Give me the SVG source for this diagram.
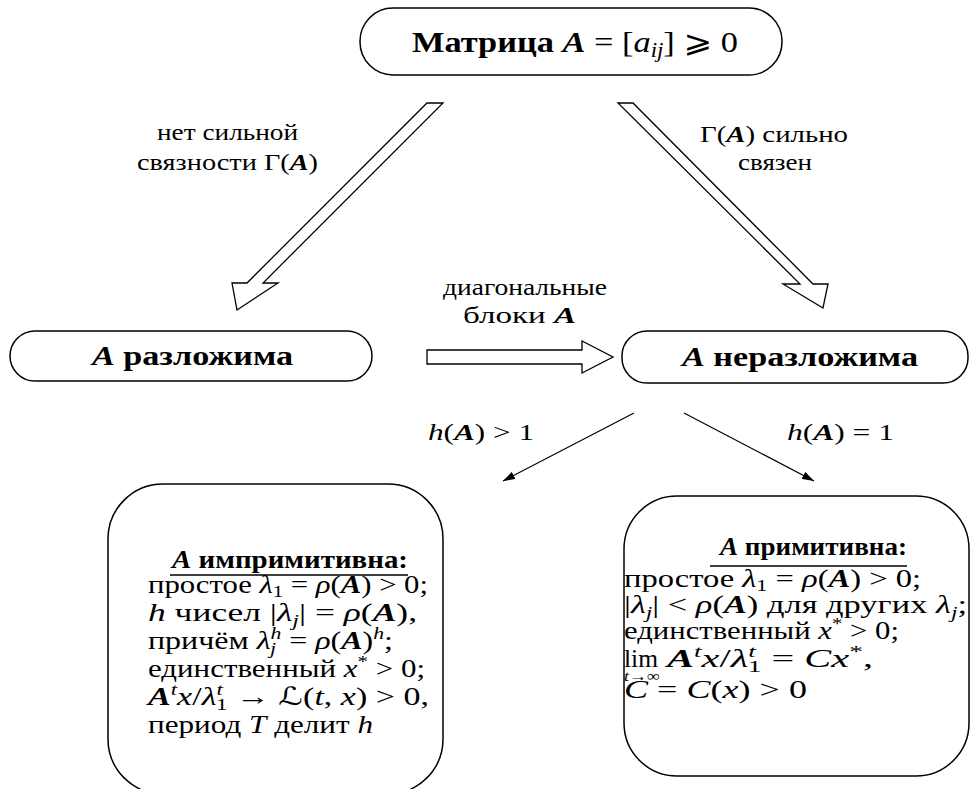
<svg xmlns="http://www.w3.org/2000/svg" width="971" height="789" viewBox="0 0 971 789" font-family="'Liberation Serif', 'DejaVu Serif', serif">
<style>
text{font-family:"Liberation Serif","DejaVu Serif",serif;fill:#000}
.box{fill:#fff;stroke:#000;stroke-width:1.5}
.hol{fill:#fff;stroke:#000;stroke-width:1.3;stroke-linejoin:miter}
.thin{stroke:#000;stroke-width:1.2;fill:none}
.b{font-weight:bold}
.i{font-style:italic}
.bi{font-weight:bold;font-style:italic}
.s{font-size:17px}
.sym{font-family:"DejaVu Sans",sans-serif}
.lbl{font-size:24px}
.bx{font-size:25px}
.ul{stroke:#000;stroke-width:1.5}
</style>
<defs>
<marker id="ah" viewBox="0 0 12 8" refX="12" refY="4" markerWidth="12" markerHeight="8" markerUnits="userSpaceOnUse" orient="auto">
<path d="M0,0 L12,4 L0,8 Z" fill="#000"/>
</marker>
</defs>
<rect width="971" height="789" fill="#fff"/>

<g id="connectors">
<polygon class="hol" points="427,103 443,103 263,283 278,283 237,310 232,283 247,283"/>
<polygon class="hol" points="618,103 633,103 813,284 828,284 823,308 783,284 800,284"/>
<polygon class="hol" points="427,350 582,350 582,341 613,357 582,373 582,364 427,364"/>
<line class="thin" x1="634" y1="413" x2="503" y2="481" marker-end="url(#ah)"/>
<line class="thin" x1="684" y1="413" x2="814" y2="481" marker-end="url(#ah)"/>
<text class="lbl" x="157" y="140" textLength="141" lengthAdjust="spacingAndGlyphs">нет сильной</text>
<text class="lbl" x="137" y="170" textLength="181" lengthAdjust="spacingAndGlyphs">связности Γ(<tspan class="bi">A</tspan>)</text>
<text class="lbl" x="700" y="142" textLength="148" lengthAdjust="spacingAndGlyphs">Γ(<tspan class="bi">A</tspan>) сильно</text>
<text class="lbl" x="738" y="170" textLength="74" lengthAdjust="spacingAndGlyphs">связен</text>
<text class="lbl" x="443" y="295" textLength="164" lengthAdjust="spacingAndGlyphs">диагональные</text>
<text class="lbl" x="463" y="323" textLength="113" lengthAdjust="spacingAndGlyphs">блоки <tspan class="bi">A</tspan></text>
<text class="lbl" x="428" y="440" textLength="106" lengthAdjust="spacingAndGlyphs"><tspan class="i">h</tspan>(<tspan class="bi">A</tspan>) &gt; 1</text>
<text class="lbl" x="787" y="440" textLength="107" lengthAdjust="spacingAndGlyphs"><tspan class="i">h</tspan>(<tspan class="bi">A</tspan>) = 1</text>
</g>

<g id="node-matrix">
<rect class="box" x="360" y="8" width="422" height="67" rx="33" ry="33"/>
<text font-size="30" x="412" y="52" textLength="326" lengthAdjust="spacingAndGlyphs"><tspan class="b">Матрица</tspan>  <tspan class="bi">A</tspan> = [<tspan class="i">a</tspan><tspan class="i" font-size="20" dy="5">ij</tspan><tspan dy="-5">] </tspan><tspan class="sym">⩾</tspan> 0</text>
</g>

<g id="node-reducible">
<rect class="box" x="10" y="331" width="362" height="50" rx="25" ry="25"/>
<text font-size="28" x="92" y="365" textLength="201" lengthAdjust="spacingAndGlyphs"><tspan class="bi">A</tspan>  <tspan class="b">разложима</tspan></text>
</g>

<g id="node-irreducible">
<rect class="box" x="622" y="331" width="346" height="52" rx="25" ry="25"/>
<text font-size="28" x="682" y="366" textLength="236" lengthAdjust="spacingAndGlyphs"><tspan class="bi">A</tspan>  <tspan class="b">неразложима</tspan></text>
</g>

<g id="node-imprimitive">
<rect class="box" x="108" y="484" width="335" height="310" rx="55" ry="55"/>
<text class="bx" x="172" y="568" textLength="236" lengthAdjust="spacingAndGlyphs"><tspan class="bi">A</tspan>  <tspan class="b">импримитивна:</tspan></text>
<line class="ul" x1="170" y1="575" x2="408" y2="575"/>
<text class="bx" x="148" y="593" textLength="280" lengthAdjust="spacingAndGlyphs">простое <tspan class="i">λ</tspan><tspan class="s" dy="4">1</tspan><tspan dy="-4"> = </tspan><tspan class="i">ρ</tspan>(<tspan class="bi">A</tspan>) &gt; 0;</text>
<text class="bx" x="148" y="621" textLength="269" lengthAdjust="spacingAndGlyphs"><tspan class="i">h</tspan> чисел |<tspan class="i">λ</tspan><tspan class="s i" dy="5">j</tspan><tspan dy="-5">| = </tspan><tspan class="i">ρ</tspan>(<tspan class="bi">A</tspan>),</text>
<text class="bx" x="148" y="649" textLength="245" lengthAdjust="spacingAndGlyphs">причём <tspan class="i">λ</tspan><tspan class="s i" dy="-10">h</tspan><tspan class="s i" dx="-9" dy="15">j</tspan><tspan dx="4" dy="-5"> = </tspan><tspan class="i">ρ</tspan>(<tspan class="bi">A</tspan>)<tspan class="s i" dy="-10">h</tspan><tspan dy="10">;</tspan></text>
<text class="bx" x="148" y="677" textLength="277" lengthAdjust="spacingAndGlyphs">единственный <tspan class="i">x</tspan><tspan class="s" dy="-10">*</tspan><tspan dy="10"> &gt; 0;</tspan></text>
<text class="bx" x="148" y="705" textLength="281" lengthAdjust="spacingAndGlyphs"><tspan class="bi">A</tspan><tspan class="s i" dy="-10">t</tspan><tspan class="i" dy="10">x</tspan>/<tspan class="i">λ</tspan><tspan class="s i" dy="-10">t</tspan><tspan class="s" dx="-5" dy="15">1</tspan><tspan dy="-5"> → </tspan><tspan class="sym i">ℒ</tspan>(<tspan class="i">t</tspan>, <tspan class="i">x</tspan>) &gt; 0,</text>
<text class="bx" x="148" y="733" textLength="225" lengthAdjust="spacingAndGlyphs">период <tspan class="i">T</tspan> делит <tspan class="i">h</tspan></text>
</g>

<g id="node-primitive">
<rect class="box" x="624" y="496" width="345" height="280" rx="53" ry="53"/>
<text class="bx" x="720" y="555" textLength="187" lengthAdjust="spacingAndGlyphs"><tspan class="bi">A</tspan>  <tspan class="b">примитивна:</tspan></text>
<line class="ul" x1="710" y1="566" x2="907" y2="566"/>
<text class="bx" x="624" y="587" textLength="297" lengthAdjust="spacingAndGlyphs">простое <tspan class="i">λ</tspan><tspan class="s" dy="4">1</tspan><tspan dy="-4"> = </tspan><tspan class="i">ρ</tspan>(<tspan class="bi">A</tspan>) &gt; 0;</text>
<text class="bx" x="624" y="613" textLength="343" lengthAdjust="spacingAndGlyphs">|<tspan class="i">λ</tspan><tspan class="s i" dy="5">j</tspan><tspan dy="-5">| &lt; </tspan><tspan class="i">ρ</tspan>(<tspan class="bi">A</tspan>) для других <tspan class="i">λ</tspan><tspan class="s i" dy="5">j</tspan><tspan dy="-5">;</tspan></text>
<text class="bx" x="624" y="639" textLength="275" lengthAdjust="spacingAndGlyphs">единственный <tspan class="i">x</tspan><tspan class="s" dy="-10">*</tspan><tspan dy="10"> &gt; 0;</tspan></text>
<text class="bx" x="624" y="667" textLength="34" lengthAdjust="spacingAndGlyphs">lim</text>
<text class="bx" x="667" y="667" textLength="206" lengthAdjust="spacingAndGlyphs"><tspan class="bi">A</tspan><tspan class="s i" dy="-10">t</tspan><tspan class="i" dy="10">x</tspan>/<tspan class="i">λ</tspan><tspan class="s i" dy="-10">t</tspan><tspan class="s" dx="-5" dy="15">1</tspan><tspan dy="-5"> = </tspan><tspan class="i">Cx</tspan><tspan class="s" dy="-10">*</tspan><tspan dy="10">,</tspan></text>
<text font-size="15" x="624" y="681" textLength="36" lengthAdjust="spacingAndGlyphs"><tspan class="i">t</tspan>→∞</text>
<text class="bx" x="624" y="698" textLength="183" lengthAdjust="spacingAndGlyphs"><tspan class="i">C</tspan> = <tspan class="i">C</tspan>(<tspan class="i">x</tspan>) &gt; 0</text>
</g>
</svg>
